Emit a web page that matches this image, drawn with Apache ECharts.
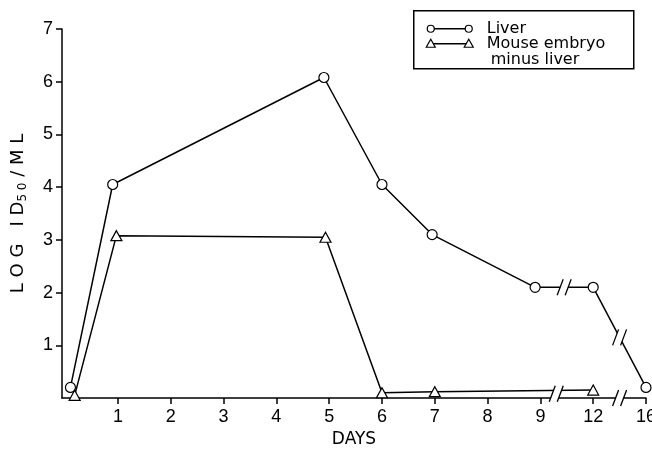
<!DOCTYPE html>
<html>
<head>
<meta charset="utf-8">
<script src="https://cdn.jsdelivr.net/npm/echarts@6/dist/echarts.min.js"></script>
<style>
  html, body { margin: 0; padding: 0; background: #fff; }
  #chart { width: 652px; height: 449px; }
</style>
</head>
<body>
<div id="chart"></div>
<script>
// x axis is broken after day 9: 12 and 16 sit on the next two tick slots
const tickDays = [1, 2, 3, 4, 5, 6, 7, 8, 9, 12, 16]
const tickLabels = ['1', '2', '3', '4', '5', '6', '7', '8', '9', '12', '16']
const yTicks = [1, 2, 3, 4, 5, 6, 7]

const liverDays = [0.1, 0.9, 4.9, 6, 6.95, 8.9, 12, 16]
const liverTiter = [0.2, 4.05, 6.08, 4.05, 3.1, 2.1, 2.1, 0.2]

const embryoDays = [0.18, 0.97, 4.93, 6, 7, 12]
const embryoTiter = [0.05, 3.08, 3.05, 0.1, 0.12, 0.15]

// where the "//" break marks go (day, value)
const breakDays = [10.35, 14, 9.9, 14]
const breakValues = [2.1, 1.15, 0.08, 0]

function dayToPos(d) {
  if (d <= 9) return d
  if (d <= 12) return 9 + (d - 9) / 3
  return 10 + (d - 12) / 4
}

function pairs(days, vals) {
  return days.map((d, i) => [dayToPos(d), vals[i]])
}

let chart = echarts.init(document.getElementById('chart'))

const font = 'Liberation Sans'
const tickPos = tickDays.map(dayToPos)

chart.setOption({
  animation: false,
  grid: { left: 62, right: 6, top: 29, bottom: 51, outerBoundsMode: 'none', containLabel: false },
  xAxis: {
    type: 'value',
    min: -0.06,
    max: 11,
    name: 'DAYS',
    nameLocation: 'middle',
    nameGap: 32,
    nameTextStyle: { color: '#000', fontSize: 17, fontFamily: 'DejaVu Sans' },
    splitLine: { show: false },
    axisLine: { onZero: false, lineStyle: { color: '#000', width: 1.5 } },
    axisTick: {
      customValues: tickPos,
      length: 6,
      lineStyle: { color: '#000', width: 1.5 }
    },
    axisLabel: {
      customValues: tickPos,
      formatter: (v) => tickLabels[tickPos.indexOf(v)],
      color: '#000',
      fontSize: 18,
      fontFamily: font,
      margin: 10,
      hideOverlap: false
    }
  },
  yAxis: {
    type: 'value',
    min: 0,
    max: 7,
    interval: 1,
    name: '{a|L O G   I D}{s|5 0}{a| / M L}',
    nameLocation: 'middle',
    nameGap: 33,
    nameTextStyle: {
      rich: {
        a: { color: '#000', fontSize: 18, fontFamily: 'DejaVu Sans', lineHeight: 21 },
        s: { color: '#000', fontSize: 12, fontFamily: 'DejaVu Sans', lineHeight: 12, verticalAlign: 'bottom' }
      }
    },
    splitLine: { show: false },
    axisLine: { show: true, onZero: false, lineStyle: { color: '#000', width: 1.5 } },
    axisTick: { show: true, customValues: yTicks, length: 6, lineStyle: { color: '#000', width: 1.5 } },
    axisLabel: {
      customValues: yTicks,
      color: '#000',
      fontSize: 18,
      fontFamily: font,
      margin: 9
    }
  },
  graphic: [
    {
      type: 'group',
      left: 413,
      top: 10,
      children: [
        { type: 'rect', shape: { x: 0, y: 0, width: 220, height: 58 }, style: { fill: '#fff', stroke: '#000', lineWidth: 1.5 } },
        { type: 'line', shape: { x1: 17, y1: 18, x2: 55, y2: 18 }, style: { stroke: '#000', lineWidth: 1.5 } },
        { type: 'circle', shape: { cx: 17, cy: 18, r: 3.5 }, style: { fill: '#fff', stroke: '#000', lineWidth: 1.2 } },
        { type: 'circle', shape: { cx: 55, cy: 18, r: 3.5 }, style: { fill: '#fff', stroke: '#000', lineWidth: 1.2 } },
        { type: 'text', x: 73, y: 11, style: { text: 'Liver', fill: '#000', fontSize: 16, fontFamily: 'DejaVu Sans', lineHeight: 15, verticalAlign: 'top' } },
        { type: 'line', shape: { x1: 17, y1: 33, x2: 55, y2: 33 }, style: { stroke: '#000', lineWidth: 1.5 } },
        { type: 'polygon', shape: { points: [[12.5, 36.5], [21.5, 36.5], [17, 28.5]] }, style: { fill: '#fff', stroke: '#000', lineWidth: 1.2 } },
        { type: 'polygon', shape: { points: [[50.5, 36.5], [59.5, 36.5], [55, 28.5]] }, style: { fill: '#fff', stroke: '#000', lineWidth: 1.2 } },
        { type: 'text', x: 73, y: 26, style: { text: 'Mouse embryo', fill: '#000', fontSize: 16, fontFamily: 'DejaVu Sans', lineHeight: 15, verticalAlign: 'top' } },
        { type: 'text', x: 77, y: 42, style: { text: 'minus liver', fill: '#000', fontSize: 16, fontFamily: 'DejaVu Sans', lineHeight: 15, verticalAlign: 'top' } }
      ]
    }
  ],
  series: [
    {
      name: 'Liver',
      type: 'line',
      data: pairs(liverDays, liverTiter),
      symbol: 'circle',
      symbolSize: 10,
      lineStyle: { color: '#000', width: 1.5 },
      itemStyle: { color: '#fff', borderColor: '#000', borderWidth: 1.2 },
      z: 3
    },
    {
      name: 'Mouse embryo minus liver',
      type: 'line',
      data: pairs(embryoDays, embryoTiter),
      symbol: 'triangle',
      symbolSize: [11, 10],
      lineStyle: { color: '#000', width: 1.5 },
      itemStyle: { color: '#fff', borderColor: '#000', borderWidth: 1.2 },
      z: 3
    },
    {
      name: 'breaks',
      type: 'custom',
      z: 5,
      data: breakDays.map((d, i) => [dayToPos(d), breakValues[i]]),
      renderItem: function (params, api) {
        let p = api.coord([api.value(0), api.value(1)])
        let x = p[0], y = p[1]
        return {
          type: 'group',
          children: [
            { type: 'polygon', shape: { points: [[x - 7, y + 8], [x + 1, y + 8], [x + 7, y - 8], [x - 1, y - 8]] }, style: { fill: '#fff' } },
            { type: 'line', shape: { x1: x - 7, y1: y + 8, x2: x - 1, y2: y - 8 }, style: { stroke: '#000', lineWidth: 1.3 } },
            { type: 'line', shape: { x1: x + 1, y1: y + 8, x2: x + 7, y2: y - 8 }, style: { stroke: '#000', lineWidth: 1.3 } }
          ]
        }
      }
    }
  ]
})
</script>
</body>
</html>
